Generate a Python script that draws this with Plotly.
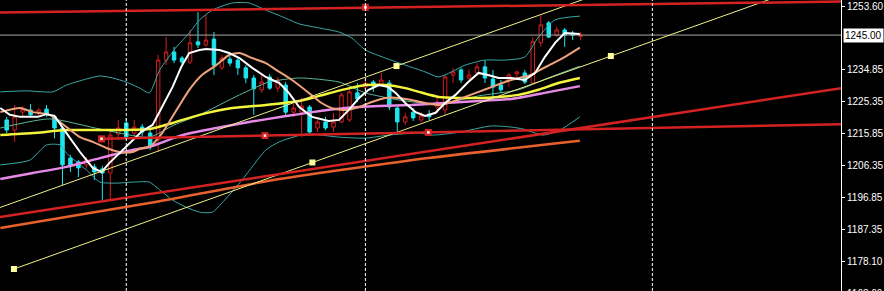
import plotly.graph_objects as go

# ---------------- data ----------------
bars = list(range(73))
open_ = [1219.9,1216.9,1222.2,1222.8,1221.9,1223.1,1220.8,1217.5,1208.6,1207.5,
         1206.6,1206.0,1205.4,1204.2,1215.7,1219.0,1216.0,1217.8,1216.0,1214.0,
         1237.6,1240.0,1238.2,1237.0,1243.0,1242.1,1243.8,1235.3,1237.9,1237.6,
         1235.3,1232.3,1228.8,1232.6,1229.3,1230.2,1222.2,1222.2,1223.7,1217.5,
         1219.3,1217.8,1219.3,1219.9,1227.9,1229.6,1231.1,1230.5,1230.8,1223.4,
         1219.3,1222.2,1219.9,1221.6,1223.7,1222.8,1233.2,1234.7,1232.3,1233.8,
         1235.6,1232.0,1230.2,1231.7,1233.5,1233.8,1230.8,1242.7,1248.6,1245.0,
         1246.5,1245.6,1244.6]
high = [1220.8,1224.3,1224.0,1224.6,1223.4,1224.3,1221.4,1218.1,1209.5,1208.0,
        1208.9,1206.9,1206.3,1216.9,1219.9,1220.5,1219.9,1218.7,1216.9,1239.1,
        1244.4,1241.5,1238.8,1246.5,1251.8,1250.9,1245.9,1239.1,1238.8,1238.2,
        1236.1,1233.2,1233.2,1233.5,1232.6,1231.1,1224.6,1226.4,1224.3,1220.5,
        1220.8,1221.9,1227.9,1228.8,1230.8,1232.3,1231.7,1233.8,1231.7,1224.3,
        1221.9,1223.4,1222.2,1222.8,1226.7,1233.2,1235.3,1235.3,1234.7,1236.7,
        1237.6,1234.7,1231.7,1233.8,1234.4,1234.7,1244.4,1250.9,1249.2,1247.4,
        1247.1,1246.2,1245.9]
low = [1216.0,1213.4,1220.5,1220.8,1221.1,1220.8,1214.5,1200.6,1204.5,1203.0,
       1205.7,1202.1,1196.2,1196.2,1214.0,1214.0,1214.0,1215.1,1211.0,1210.4,
       1236.1,1236.7,1236.4,1236.4,1241.2,1241.5,1233.2,1234.7,1235.8,1233.2,
       1230.8,1221.4,1227.9,1228.8,1228.2,1220.8,1220.8,1214.8,1216.0,1216.3,
       1216.9,1216.3,1219.0,1219.3,1225.2,1228.8,1228.2,1229.9,1222.8,1216.3,
       1218.4,1219.6,1219.3,1219.9,1221.9,1221.4,1230.8,1230.8,1231.7,1233.2,
       1230.8,1226.7,1227.9,1229.6,1232.6,1230.5,1230.5,1241.5,1244.1,1244.4,
       1241.5,1243.5,1243.5]
close = [1216.9,1220.8,1223.1,1221.4,1222.8,1221.6,1217.5,1206.6,1206.3,1205.7,
         1208.0,1204.5,1204.2,1215.4,1217.5,1214.8,1217.8,1216.3,1211.9,1237.6,
         1240.0,1237.6,1237.0,1242.7,1242.1,1243.5,1236.1,1238.2,1236.7,1235.3,
         1232.3,1229.1,1231.1,1229.3,1231.7,1222.2,1223.4,1224.0,1216.3,1219.3,
         1217.5,1219.3,1227.3,1228.2,1226.1,1230.8,1229.9,1231.7,1223.7,1219.3,
         1220.8,1220.5,1221.1,1220.8,1225.2,1232.6,1234.1,1231.7,1233.2,1235.6,
         1232.3,1229.6,1228.8,1233.2,1234.1,1231.1,1243.0,1248.0,1244.4,1246.5,
         1245.0,1245.0,1245.0]

# moving averages (bar position, price)
white_x = [-0.8,0.4,1.7,3.9,5.0,6.0,7.5,9.2,10.8,11.9,12.9,14.2,15.7,17.0,18.3,19.5,20.8,21.9,22.9,24.2,
           25.0,26.7,27.9,29.2,30.8,32.5,34.2,35.4,36.7,38.3,40.4,41.7,42.9,44.2,45.4,46.7,47.9,48.8,50.0,51.3,
           52.5,53.8,55.0,56.3,57.9,59.2,60.4,61.7,63.3,65.0,66.3,67.5,68.8,70.0,71.9]
white_v = [1223.4,1221.4,1220.8,1220.8,1221.6,1221.1,1216.0,1210.4,1205.7,1204.5,1207.2,1210.1,1213.4,1216.6,1218.4,1223.7,1229.6,1235.6,1239.7,1240.6,
           1240.9,1240.6,1239.7,1238.2,1235.3,1232.6,1230.8,1227.9,1223.7,1220.8,1219.6,1219.9,1222.8,1226.4,1228.8,1230.2,1229.6,1227.9,1224.9,1222.2,
           1221.1,1222.0,1224.9,1227.3,1231.1,1233.8,1233.2,1232.3,1232.3,1231.7,1233.8,1238.5,1242.7,1245.6,1245.3]
tan_x = [-0.8,1.7,3.3,5.4,7.5,9.2,10.8,12.5,14.2,15.8,17.0,17.9,19.5,21.3,22.9,24.5,26.3,27.9,29.2,30.8,
         32.5,34.2,35.8,37.9,39.5,40.8,42.5,44.2,45.8,47.5,49.2,50.8,52.5,54.2,55.8,57.5,59.2,60.8,62.5,64.2,
         65.8,66.9,68.5,70.2,71.9]
tan_v = [1222.2,1223.4,1222.2,1221.4,1217.8,1214.8,1213.4,1211.6,1210.4,1210.4,1211.6,1211.9,1216.0,1222.8,1228.8,1233.2,1236.1,1239.1,1239.7,1238.2,
         1236.7,1234.1,1231.7,1227.9,1224.9,1223.4,1222.8,1223.7,1225.2,1226.4,1226.4,1225.8,1224.9,1224.3,1225.2,1226.7,1228.2,1229.6,1231.1,1232.3,
         1233.2,1234.7,1236.6,1238.8,1241.3]
yellow_x = [-0.8,3.3,7.5,11.7,17.9,20.8,24.2,28.3,32.5,36.7,39.2,42.5,45.0,47.5,50.0,51.7,54.2,56.7,59.2,61.7,64.2,66.7,69.2,71.9]
yellow_v = [1215.4,1216.0,1216.9,1216.9,1217.2,1219.0,1221.4,1223.4,1224.3,1225.5,1227.0,1229.0,1230.2,1230.2,1229.3,1228.2,1226.7,1226.4,1226.4,1226.7,1227.3,1228.8,1230.8,1232.3]
violet_x = [-0.8,3.3,7.5,11.7,15.8,17.9,22.0,26.3,30.4,34.5,38.3,42.5,46.7,50.8,55.0,59.2,63.3,67.5,71.9]
violet_v = [1202.4,1204.2,1206.0,1208.6,1211.0,1211.9,1215.4,1217.5,1219.3,1220.8,1222.2,1223.4,1224.0,1224.3,1224.9,1225.5,1226.1,1227.9,1229.9]
orange_x = [-0.8,17.9,34.2,52.9,71.9]
orange_v = [1187.9,1195.3,1202.4,1208.6,1213.7]

# Bollinger bands
bbu_x = [-0.8,2.5,5.8,7.5,10.0,11.7,13.3,15.0,16.7,17.9,19.2,21.3,22.9,24.2,25.8,28.3,30.4,32.5,35.0,36.7,
         39.2,41.7,43.3,45.0,47.5,50.0,52.5,54.2,55.8,57.5,60.0,62.5,65.0,66.7,68.8,71.9]
bbu_v = [1228.2,1228.5,1228.2,1230.2,1232.0,1232.9,1232.3,1231.1,1229.3,1227.9,1234.7,1241.5,1245.6,1249.5,1252.4,1254.5,1254.5,1252.4,1250.0,1248.3,
         1247.1,1245.9,1244.1,1240.6,1238.2,1236.1,1234.1,1232.6,1234.1,1236.1,1237.6,1237.6,1238.5,1244.4,1249.5,1250.6]
bbl_x = [-0.8,2.9,5.0,6.7,7.5,9.2,10.0,11.7,13.8,15.8,17.9,19.2,20.8,22.5,24.2,25.8,27.0,29.2,30.8,32.5,
         34.2,37.5,41.7,45.0,47.9,51.7,53.5,56.9,60.7,63.2,64.8,67.3,69.4,71.9]
bbl_v = [1206.6,1208.0,1212.5,1212.5,1210.1,1206.6,1205.1,1201.5,1201.2,1201.5,1201.5,1199.2,1196.2,1194.1,1192.6,1192.6,1195.3,1201.2,1206.0,1211.0,
         1213.4,1215.7,1214.8,1214.5,1215.4,1216.0,1215.4,1216.3,1218.1,1217.8,1217.2,1215.4,1216.9,1220.8]
bbm_x = [-0.8,5.4,11.7,17.9,21.0,24.2,29.2,32.9,36.7,41.7,45.0,49.2,54.2,59.2,64.2,67.9,71.9]
bbm_v = [1217.5,1220.2,1217.2,1214.8,1218.4,1221.4,1227.3,1231.1,1232.3,1231.1,1227.9,1225.8,1224.6,1227.0,1228.8,1232.3,1235.8]

# drawn objects (anchor bar, anchor price)
red_top_x, red_top_v = [-0.84, 104.66], [1251.7, 1254.9]
red_top_mk_x, red_top_mk_v = [45.0], [1253.2]
red_mid_x, red_mid_v = [11.9, 104.66], [1214.3, 1218.6]
red_mid_mk_x, red_mid_mk_v = [11.9, 32.4, 52.9], [1214.3, 1215.25, 1216.2]
red_low_x, red_low_v = [-0.84, 104.66], [1191.2, 1229.3]
chanA_x, chanA_v = [-0.84, 104.66], [1193.98, 1282.75]
chanA_mk_x, chanA_mk_v = [48.9], [1235.83]
chanB_x, chanB_v = [0.91, 104.66], [1175.79, 1263.08]
chanB_mk_x, chanB_mk_v = [0.91, 38.35, 75.79], [1175.79, 1207.3, 1238.8]

separators = [15, 45, 81]
current_price = 1245.00
tick_vals = [1253.60, 1234.85, 1225.35, 1215.85, 1206.35, 1196.85, 1187.35, 1178.10]
tick_text = [f"{v:.2f}" for v in tick_vals]
bottom_label = 1168.60

X_RANGE = [-0.8375, 104.6625]
Y_RANGE = [1169.28, 1255.375]

# ---------------- figure ----------------
fig = go.Figure()

fig.add_trace(go.Candlestick(
    x=bars, open=open_, high=high, low=low, close=close,
    increasing=dict(line=dict(color="#d21e1e", width=1), fillcolor="#000000"),
    decreasing=dict(line=dict(color="#1ee6f0", width=1), fillcolor="#1ee6f0"),
    whiskerwidth=0, hoverinfo="skip", showlegend=False))

def line(xs, ys, color, width, shape="linear", dash=None):
    fig.add_trace(go.Scatter(x=xs, y=ys, mode="lines",
                             line=dict(color=color, width=width, shape=shape,
                                       smoothing=0.6 if shape == "spline" else None,
                                       dash=dash),
                             hoverinfo="skip", showlegend=False))

def marks(xs, ys, color, size, symbol="square"):
    fig.add_trace(go.Scatter(x=xs, y=ys, mode="markers",
                             marker=dict(color=color, size=size, symbol=symbol,
                                         line=dict(width=0)),
                             hoverinfo="skip", showlegend=False))

# price line
line([X_RANGE[0], X_RANGE[1]], [current_price, current_price], "#a8a8a8", 1)

# bollinger
line(bbu_x, bbu_v, "#3aa8a8", 1, "spline")
line(bbl_x, bbl_v, "#3aa8a8", 1, "spline")
line(bbm_x, bbm_v, "#5cb89a", 1, "spline")

# moving averages
line(orange_x, orange_v, "#e8602c", 2.5, "spline")
line(violet_x, violet_v, "#e68ae6", 2.5, "spline")
line(yellow_x, yellow_v, "#f4f43a", 2.5, "spline")
line(tan_x, tan_v, "#eea27c", 2, "spline")
line(white_x, white_v, "#ffffff", 2)

# trend lines / channel
line(chanA_x, chanA_v, "#f0f088", 1)
line(chanB_x, chanB_v, "#f0f088", 1)
line(red_low_x, red_low_v, "#d42222", 2.5)
line(red_mid_x, red_mid_v, "#d42222", 2.5)
line(red_top_x, red_top_v, "#d42222", 2.5)

marks(chanA_mk_x, chanA_mk_v, "#ffff99", 6)
marks(chanB_mk_x, chanB_mk_v, "#ffff99", 6)
marks(red_top_mk_x + red_mid_mk_x, red_top_mk_v + red_mid_mk_v, "#d42222", 7)
marks(red_top_mk_x + red_mid_mk_x, red_top_mk_v + red_mid_mk_v, "#ffffff", 2.5)

shapes = []
for s in separators:
    shapes.append(dict(type="line", xref="x", yref="paper", x0=s, x1=s, y0=0, y1=1,
                       line=dict(color="#ffffff", width=1, dash="3px,2px")))

# partially visible label below the visible range
bottom_frac = (bottom_label - Y_RANGE[0]) / (Y_RANGE[1] - Y_RANGE[0])

fig.update_layout(
    width=884, height=291,
    margin=dict(l=0, r=40, t=0, b=0),
    paper_bgcolor="#000000", plot_bgcolor="#000000",
    showlegend=False, boxgap=0.38,
    shapes=shapes,
    font=dict(family="Liberation Sans, Arial, sans-serif", size=10, color="#ffffff"),
    xaxis=dict(range=X_RANGE, showgrid=False, zeroline=False, showticklabels=False,
               showline=False, ticks="", rangeslider=dict(visible=False), fixedrange=True),
    yaxis=dict(range=Y_RANGE, side="right", showgrid=False, zeroline=False,
               showline=True, linecolor="#ffffff", linewidth=1,
               ticks="outside", ticklen=3, tickcolor="#ffffff", tickwidth=1,
               tickvals=tick_vals, ticktext=tick_text,
               tickfont=dict(color="#ffffff", size=10), fixedrange=True),
    annotations=[dict(xref="paper", x=1, xanchor="left", xshift=2,
                      yref="y", y=current_price, yanchor="middle",
                      text=f"{current_price:.2f}", showarrow=False,
                      font=dict(color="#000000", size=10),
                      bgcolor="#ffffff", borderpad=1),
                 dict(xref="paper", x=1, xanchor="left", xshift=4,
                      yref="paper", y=bottom_frac, yanchor="middle",
                      text=f"{bottom_label:.2f}", showarrow=False,
                      font=dict(color="#ffffff", size=10))],
)

fig.write_html("out.html")
